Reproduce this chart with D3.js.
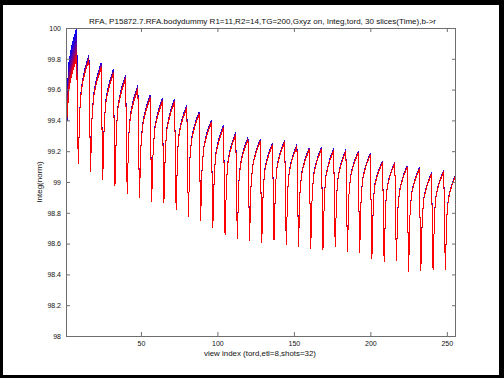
<!DOCTYPE html>
<html><head><meta charset="utf-8">
<script src="https://cdn.jsdelivr.net/npm/d3@7"></script>
<style>html,body{margin:0;padding:0;background:#000;overflow:hidden}text{font-family:"Liberation Sans",Arial,Helvetica,sans-serif}</style>
</head><body>
<svg id="c" width="504" height="378"></svg>
<script>
// ---- data ----
const titleText = "RFA, P15872.7.RFA.bodydummy R1=11,R2=14,TG=200,Gxyz on, Integ,tord, 30 slices(Time),b->r";
const xLabelText = "view index (tord,etl=8,shots=32)";
const yLabelText = "Integ(norm)";
const nSlices = 30;
const etl = 8;
const xDomain = [1, 256];
const yDomain = [98, 100];
const xTicks = [50, 100, 150, 200, 250];
const yTicks = [98, 98.2, 98.4, 98.6, 98.8, 99, 99.2, 99.4, 99.6, 99.8, 100];
const yTickLabels = ["98", "98.2", "98.4", "98.6", "98.8", "99", "99.2", "99.4", "99.6", "99.8", "100"];

// per shot (32 shots of 8 views): last slice values
const dips = [99.35, 99.115, 99.067, 99.011, 98.974, 98.92, 98.898, 98.872, 98.862, 98.818, 98.775, 98.748, 98.70, 98.653, 98.628, 98.617,
              98.606, 98.623, 98.588, 98.58, 98.565, 98.558, 98.58, 98.543, 98.537, 98.498, 98.482, 98.489, 98.418, 98.422, 98.429, 98.429];
const starts = [99.47, 99.456, 99.41, 99.38, 99.35, 99.29, 99.23, 99.21, 99.22, 99.20, 99.145, 99.095, 99.06, 99.015, 98.99, 98.98,
                98.96, 98.98, 98.95, 98.93, 98.93, 98.92, 98.92, 98.915, 98.905, 98.88, 98.85, 98.82, 98.81, 98.78, 98.80, 98.775];
const peaks = [99.80, 99.79, 99.74, 99.70, 99.667, 99.60, 99.54, 99.52, 99.517, 99.478, 99.435, 99.382, 99.349, 99.305, 99.273, 99.262,
               99.237, 99.258, 99.229, 99.208, 99.212, 99.203, 99.197, 99.186, 99.175, 99.125, 99.12, 99.093, 99.082, 99.05, 99.066, 99.045];
// rise within a shot, from start (2nd view) to peak (8th view)
const riseShape = [0, 0.41, 0.58, 0.71, 0.82, 0.91, 1];
// first slice (blue) offset from last slice (red)
const liftDip = [-0.43, 0, 0, 0, 0, 0, 0, 0, 0, 0, 0, 0, 0, 0, 0, 0, 0, 0, 0, 0, 0, 0, 0, 0, 0, 0, 0, 0, 0, 0, 0, 0];
const liftStart = [0.16, 0.004, 0.004, 0.004, 0.004, 0.004, 0.004, 0.004, 0.004, 0.004, 0.004, 0.004, 0.004, 0.004, 0.004, 0.004,
                   0.004, 0.004, 0.004, 0.004, 0.004, 0.004, 0.004, 0.004, 0.004, 0.004, 0.004, 0.004, 0.004, 0.004, 0.004, 0.004];
const liftPeak = [0.20, 0.035, 0.035, 0.032, 0.03, 0.03, 0.026, 0.025, 0.024, 0.022, 0.021, 0.02, 0.02, 0.018, 0.018, 0.017,
                  0.016, 0.016, 0.015, 0.015, 0.014, 0.014, 0.013, 0.013, 0.012, 0.012, 0.012, 0.012, 0.012, 0.012, 0.012, 0.012];
const sliceSpread = [1, 0.95, 0.9, 0.85, 0.8, 0.75, 0.7, 0.66, 0.62, 0.58, 0.54, 0.5, 0.46, 0.42, 0.39, 0.36, 0.33, 0.3, 0.27, 0.24,
                     0.21, 0.18, 0.16, 0.14, 0.12, 0.1, 0.075, 0.05, 0.025, 0];

// ---- build series ----
const series = sliceSpread.map((w, s) => {
  const pts = [];
  dips.forEach((d, k) => {
    const base = k * etl;
    pts.push({i: base + 1, v: d + liftDip[k] * w});
    const st = starts[k] + liftStart[k] * w;
    const pk = peaks[k] + liftPeak[k] * w;
    riseShape.forEach((f, m) => pts.push({i: base + 2 + m, v: st + (pk - st) * f}));
  });
  return {s, pts};
});

// ---- draw ----
const svg = d3.select("#c");
const L = 66, R = 456, T = 28, B = 336;
svg.append("rect").attr("x", 3).attr("y", 5).attr("width", 496).attr("height", 370).attr("fill", "#fff");

const x = d3.scaleLinear().domain(xDomain).range([L, R]);
const y = d3.scaleLinear().domain(yDomain).range([B, T]);
const color = d3.interpolateRgb("rgb(0,0,255)", "rgb(255,0,0)");

const defs = svg.append("defs");
defs.append("clipPath").attr("id", "clip").append("rect").attr("x", L).attr("y", T).attr("width", R - L).attr("height", B - T);
const flt = defs.append("filter").attr("id", "soft").attr("filterUnits", "userSpaceOnUse")
  .attr("x", 0).attr("y", 0).attr("width", 504).attr("height", 378);
flt.append("feGaussianBlur").attr("in", "SourceGraphic").attr("stdDeviation", 0.4);

const line = d3.line().x(d => x(d.i)).y(d => y(d.v));
svg.append("g").attr("clip-path", "url(#clip)")
  .append("g").style("filter", "url(#soft)")
  .selectAll("path").data(series).join("path")
  .attr("d", d => line(d.pts))
  .attr("fill", "none")
  .attr("shape-rendering", "crispEdges")
  .attr("stroke", d => color(d.s / (nSlices - 1)))
  .attr("stroke-width", 1);

const axCol = "#6e6e6e";
function styleAxis(g) {
  g.select(".domain").remove();
  g.selectAll(".tick line").attr("stroke", axCol);
  g.selectAll(".tick text").attr("fill", "#111").style("font-size", "7px").style("font-family", '"Liberation Sans",Arial,sans-serif');
}
svg.append("g").attr("transform", `translate(0,${B})`)
  .call(d3.axisBottom(x).tickValues(xTicks).tickSize(-4).tickPadding(5)).call(styleAxis);
svg.append("g").attr("transform", `translate(0,${T})`)
  .call(d3.axisTop(x).tickValues(xTicks).tickSize(-4).tickFormat("")).call(styleAxis);
svg.append("g").attr("transform", `translate(${L},0)`)
  .call(d3.axisLeft(y).tickValues(yTicks).tickSize(-4).tickPadding(5).tickFormat((d, i) => yTickLabels[i])).call(styleAxis);
svg.append("g").attr("transform", `translate(${R},0)`)
  .call(d3.axisRight(y).tickValues(yTicks).tickSize(-4).tickFormat("")).call(styleAxis);

svg.append("rect").attr("x", L + 0.5).attr("y", T + 0.5).attr("width", R - L - 1).attr("height", B - T)
  .attr("fill", "none").attr("stroke", axCol).attr("stroke-width", 1);

svg.append("text").attr("x", 262.5).attr("y", 24).attr("text-anchor", "middle")
  .style("font-size", "8px").attr("textLength", 347).attr("lengthAdjust", "spacingAndGlyphs").attr("fill", "#111").text(titleText);
svg.append("text").attr("x", 260).attr("y", 356).attr("text-anchor", "middle")
  .style("font-size", "8px").attr("textLength", 112).attr("lengthAdjust", "spacingAndGlyphs").attr("fill", "#111").text(xLabelText);
svg.append("text").attr("transform", `translate(42,${(T + B) / 2}) rotate(-90)`).attr("text-anchor", "middle")
  .style("font-size", "8px").attr("fill", "#111").text(yLabelText);
</script>
</body></html>
